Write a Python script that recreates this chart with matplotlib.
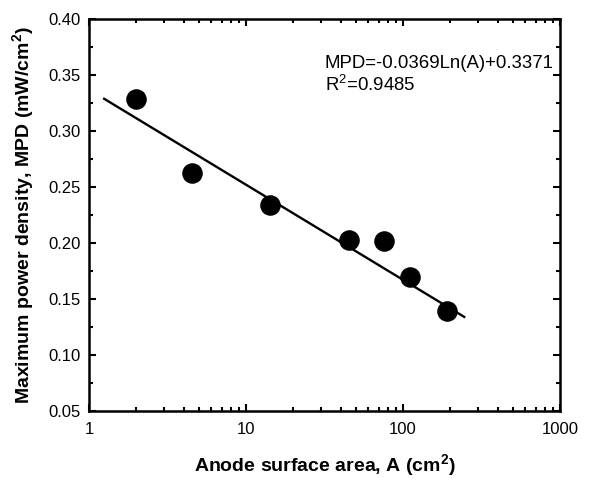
import numpy as np
import matplotlib
matplotlib.use("Agg")
import matplotlib.pyplot as plt
from matplotlib.ticker import LogLocator, NullFormatter, MultipleLocator, FormatStrFormatter

plt.rcParams['font.family'] = ['Liberation Sans', 'DejaVu Sans']

area = [2.0, 4.56, 14.2, 45.0, 75.2, 110.7, 190.5]
mpd = [0.3284, 0.263, 0.2344, 0.203, 0.2022, 0.170, 0.1395]
fit_slope = -0.0369
fit_intercept = 0.3371
fit_range = [1.25, 245]

fig = plt.figure(figsize=(6.01, 4.78), dpi=100)
ax = fig.add_axes([0.148, 0.140, 0.784, 0.820])

xf = np.logspace(np.log10(fit_range[0]), np.log10(fit_range[1]), 100)
ax.plot(xf, fit_slope * np.log(xf) + fit_intercept, color='black', lw=1.7, zorder=2)
ax.plot(area, mpd, 'o', color='black', markersize=13.8, zorder=3)

ax.set_xscale('log')
ax.set_xlim(1, 1000)
ax.set_ylim(0.05, 0.40)
ax.set_xticks([1, 10, 100, 1000])
ax.set_xticklabels(['1', '10', '100', '1000'])
ax.xaxis.set_minor_locator(LogLocator(base=10, subs=np.arange(2, 10)))
ax.xaxis.set_minor_formatter(NullFormatter())
ax.yaxis.set_major_locator(MultipleLocator(0.05))
ax.yaxis.set_minor_locator(MultipleLocator(0.025))
ax.yaxis.set_major_formatter(FormatStrFormatter('%.2f'))

for s in ax.spines.values():
    s.set_linewidth(1.8)
ax.tick_params(which='both', direction='in', top=True, right=True, labelsize=12, width=1.5)
ax.tick_params(which='major', length=5)
ax.tick_params(axis='x', which='major', pad=8)
ax.tick_params(axis='y', which='major', pad=6)
ax.tick_params(which='minor', length=3)

ax.set_xlabel('Anode surface area, A (cm$^\\mathregular{2}$)', fontsize=14, fontweight='bold', labelpad=11)
ax.set_ylabel('Maximum power density, MPD (mW/cm$^\\mathregular{2}$)', fontsize=14, fontweight='bold', labelpad=8)

ax.text(0.50, 0.887, 'MPD=-0.0369Ln(A)+0.3371', transform=ax.transAxes, fontsize=13.4, va='center')
ax.text(0.50, 0.832, 'R$^\\mathregular{2}$=0.9485', transform=ax.transAxes, fontsize=13.4, va='center')

fig.savefig('out.png', dpi=100)
